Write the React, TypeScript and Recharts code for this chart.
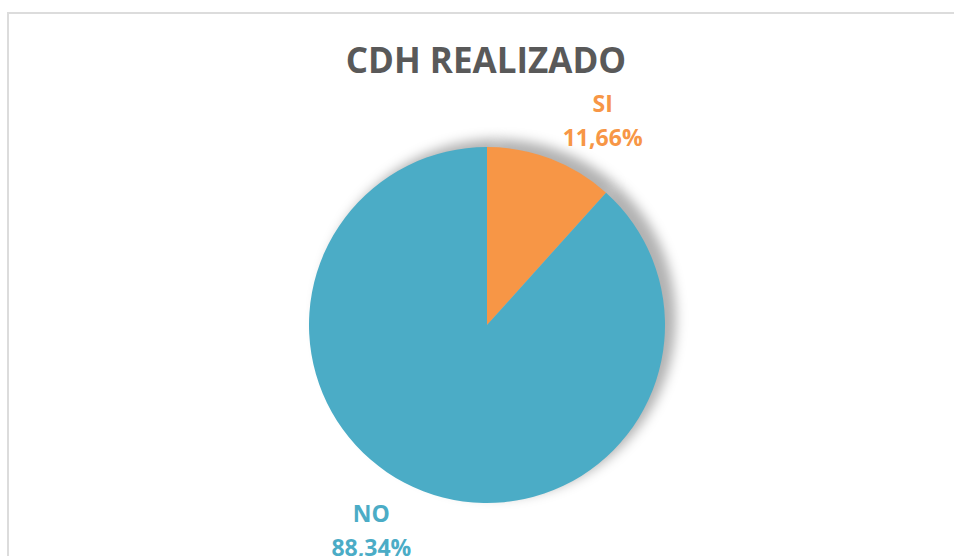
import { PieChart, Pie, Cell } from 'recharts';

const categories = ['SI', 'NO'];
const values = [11.66, 88.34];
const colors = ['#F79646', '#4BACC6'];

const data = categories.map((name, i) => ({ name, value: values[i] }));

const RAD = Math.PI / 180;

const fmt = (v: number) => v.toFixed(2).replace('.', ',') + '%';

function renderLabel(props: any) {
  const { cx, cy, midAngle, outerRadius, index } = props;
  const ang = (midAngle - 8.5) * RAD;
  const r = outerRadius + 57;
  const x = cx + r * Math.cos(ang);
  const y = cy - r * Math.sin(ang);
  return (
    <text
      x={x}
      y={y}
      textAnchor="middle"
      fill={colors[index]}
      fontFamily="'Open Sans', sans-serif"
      fontWeight="bold"
      fontSize={23}
    >
      <tspan x={x} dy={-8}>{categories[index]}</tspan>
      <tspan x={x} dy={34}>{fmt(values[index])}</tspan>
    </text>
  );
}

export default function App() {
  return (
    <div style={{ position: 'absolute', left: 0, top: 0, width: 954, height: 556, background: '#fff', overflow: 'hidden' }}>
      {/* chart frame */}
      <div
        style={{
          position: 'absolute',
          left: 7,
          top: 12,
          width: 1000,
          height: 600,
          border: '2px solid #dcdcdc',
        }}
      />
      <div
        style={{
          position: 'absolute',
          left: 0,
          width: 972,
          top: 42,
          textAlign: 'center',
          fontFamily: "'Open Sans', sans-serif",
          fontWeight: 'bold',
          fontSize: 35,
          lineHeight: '35px',
          color: '#595959',
        }}
      >
        CDH REALIZADO
      </div>
      <div style={{ position: 'absolute', left: 0, top: 0 }}>
        <PieChart width={954} height={556} margin={{ top: 0, right: 0, bottom: 0, left: 0 }}>
          <defs>
            <filter id="blur" x="-20%" y="-20%" width="140%" height="140%">
              <feGaussianBlur stdDeviation="6" />
            </filter>
          </defs>
          {/* soft shadow behind the pie */}
          <Pie
            data={data}
            dataKey="value"
            cx={497}
            cy={318}
            outerRadius={179}
            startAngle={90}
            endAngle={-270}
            stroke="none"
            isAnimationActive={false}
          >
            {data.map((d, i) => (
              <Cell key={`s-${i}`} fill="#000" fillOpacity={0.3} filter="url(#blur)" />
            ))}
          </Pie>
          <Pie
            data={data}
            dataKey="value"
            cx={487}
            cy={325}
            outerRadius={178}
            startAngle={90}
            endAngle={-270}
            stroke="none"
            label={renderLabel}
            labelLine={false}
            isAnimationActive={false}
          >
            {data.map((d, i) => (
              <Cell key={`c-${i}`} fill={colors[i]} />
            ))}
          </Pie>
        </PieChart>
      </div>
    </div>
  );
}
